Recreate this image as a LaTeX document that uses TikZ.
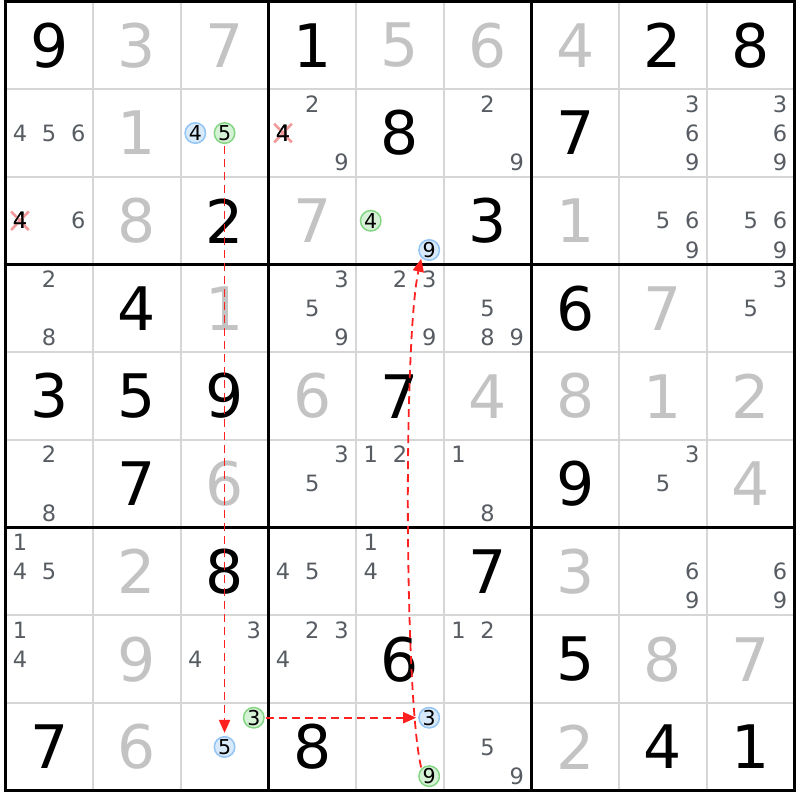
\documentclass[tikz,border=0pt]{standalone}
\usepackage{fontspec}
\setmainfont{DejaVu Sans}
\usetikzlibrary{arrows.meta,shapes.misc}
\definecolor{solved}{HTML}{C3C3C3}
\definecolor{candc}{HTML}{575C62}
\definecolor{gridthin}{HTML}{D6D6D6}
\definecolor{bluefill}{HTML}{D8E9FA}
\definecolor{bluedraw}{HTML}{92C4F4}
\definecolor{greenfill}{HTML}{D6F2D6}
\definecolor{greendraw}{HTML}{84D684}
\definecolor{linkred}{HTML}{FF2020}
\definecolor{xpink}{HTML}{F29A9A}
\def\CS{87.7}\def\XO{5.3}\def\YO{1.5}
\tikzset{
  givenst/.style={inner sep=0pt, font=\fontsize{60}{60}\selectfont, text=black},
  solvedst/.style={inner sep=0pt, font=\fontsize{60}{60}\selectfont, text=solved},
  candst/.style={inner sep=0pt, font=\fontsize{22.5}{22.5}\selectfont, text=candc},
  candelim/.style={inner sep=0pt, font=\fontsize{22.5}{22.5}\selectfont, text=black},
  blueC/.style={circle, inner sep=0pt, minimum size=20.5pt, draw=bluedraw, fill=bluefill, line width=1.5pt, font=\fontsize{20.5}{20.5}\selectfont, text=black},
  greenC/.style={circle, inner sep=0pt, minimum size=20.5pt, draw=greendraw, fill=greenfill, line width=1.5pt, font=\fontsize{20.5}{20.5}\selectfont, text=black},
  xmarkst/.style={cross out, draw=xpink, line width=2.6pt, minimum width=15pt, minimum height=16pt, inner sep=0pt},
  thinline/.style={draw=gridthin, line width=2pt},
  thickline/.style={draw=black, line width=3.2pt},
  linkst/.style={draw=linkred, line width=1.8pt, dash pattern=on 8pt off 5pt, -{Triangle[length=13pt,width=11pt]}}
}
\newcommand\cellpos[2]{({\XO+(#2-0.5)*\CS},{\YO+(#1-0.5)*\CS})}
\newcommand\givd[3]{\node[givenst] (v#1#2) at \cellpos{#1}{#2} {#3};}
\newcommand\solv[3]{\node[solvedst] (v#1#2) at \cellpos{#1}{#2} {#3};}
\newcommand\candat[4]{%
  \pgfmathtruncatemacro\cdx{mod(#4-1,3)-1}%
  \pgfmathtruncatemacro\cdy{floor((#4-1)/3)-1}%
  \node[#1] (c#2#3#4) at ({\XO+(#3-0.5+\cdx/3)*\CS},{\YO+(#2-0.5+\cdy/3)*\CS}) {#4};}
\newcommand\cands[3]{\foreach \dd in {#3}{\candat{candst}{#1}{#2}{\dd}}}
\begin{document}
\begin{tikzpicture}[x=1pt,y=-1pt]
\useasboundingbox[fill=white] (0,0) rectangle (800,800);
% grid
\foreach \i in {1,2,4,5,7,8}{
  \draw[thinline] ({\XO+\i*\CS},\YO) -- ({\XO+\i*\CS},{\YO+9*\CS});
  \draw[thinline] (\XO,{\YO+\i*\CS}) -- ({\XO+9*\CS},{\YO+\i*\CS});
}
\foreach \i in {0,3,6,9}{
  \draw[thickline] ({\XO+\i*\CS},{\YO-1.6}) -- ({\XO+\i*\CS},{\YO+9*\CS+1.6});
  \draw[thickline] ({\XO-1.6},{\YO+\i*\CS}) -- ({\XO+9*\CS+1.6},{\YO+\i*\CS});
}
% givens
\givd{1}{1}{9}\givd{1}{4}{1}\givd{1}{8}{2}\givd{1}{9}{8}
\givd{2}{5}{8}\givd{2}{7}{7}
\givd{3}{3}{2}\givd{3}{6}{3}
\givd{4}{2}{4}\givd{4}{7}{6}
\givd{5}{1}{3}\givd{5}{2}{5}\givd{5}{3}{9}\givd{5}{5}{7}
\givd{6}{2}{7}\givd{6}{7}{9}
\givd{7}{3}{8}\givd{7}{6}{7}
\givd{8}{5}{6}\givd{8}{7}{5}
\givd{9}{1}{7}\givd{9}{4}{8}\givd{9}{8}{4}\givd{9}{9}{1}
% solved
\solv{1}{2}{3}\solv{1}{3}{7}\solv{1}{5}{5}\solv{1}{6}{6}\solv{1}{7}{4}
\solv{2}{2}{1}
\solv{3}{2}{8}\solv{3}{4}{7}\solv{3}{7}{1}
\solv{4}{3}{1}\solv{4}{8}{7}
\solv{5}{4}{6}\solv{5}{6}{4}\solv{5}{7}{8}\solv{5}{8}{1}\solv{5}{9}{2}
\solv{6}{3}{6}\solv{6}{9}{4}
\solv{7}{2}{2}\solv{7}{7}{3}
\solv{8}{2}{9}\solv{8}{8}{8}\solv{8}{9}{7}
\solv{9}{2}{6}\solv{9}{7}{2}
% candidates
\cands{2}{1}{4,5,6}
\cands{2}{4}{2,9}
\cands{2}{6}{2,9}
\cands{2}{8}{3,6,9}\cands{2}{9}{3,6,9}
\cands{3}{1}{6}
\cands{3}{8}{5,6,9}\cands{3}{9}{5,6,9}
\cands{4}{1}{2,8}\cands{4}{4}{3,5,9}\cands{4}{5}{2,3,9}\cands{4}{6}{5,8,9}\cands{4}{9}{3,5}
\cands{6}{1}{2,8}\cands{6}{4}{3,5}\cands{6}{5}{1,2}\cands{6}{6}{1,8}\cands{6}{8}{3,5}
\cands{7}{1}{1,4,5}\cands{7}{4}{4,5}\cands{7}{5}{1,4}\cands{7}{8}{6,9}\cands{7}{9}{6,9}
\cands{8}{1}{1,4}\cands{8}{3}{3,4}\cands{8}{4}{2,3,4}\cands{8}{6}{1,2}
\cands{9}{6}{5,9}
% eliminated candidates
\candat{candelim}{2}{4}{4}
\node[xmarkst] (x244) at (c244) {};
\node[candelim] (d244) at (c244) {4};
\candat{candelim}{3}{1}{4}
\node[xmarkst] (x314) at (c314) {};
\node[candelim] (d314) at (c314) {4};
% circled candidates
\candat{blueC}{2}{3}{4}
\candat{greenC}{2}{3}{5}
\candat{greenC}{3}{5}{4}
\candat{blueC}{3}{5}{9}
\candat{greenC}{9}{3}{3}
\candat{blueC}{9}{3}{5}
\candat{blueC}{9}{5}{3}
\candat{greenC}{9}{5}{9}
% links
\draw[linkst, shorten <=2pt, shorten >=3pt] (c235.south) -- (c935.north);
\draw[linkst, shorten <=1pt, shorten >=2pt] (c933.east) -- (c953.west);
\draw[linkst, shorten <=1pt, shorten >=1pt] (c959.north west) .. controls +(-17,-70) and +(-18,80) .. (c359.south west);
\end{tikzpicture}
\end{document}
